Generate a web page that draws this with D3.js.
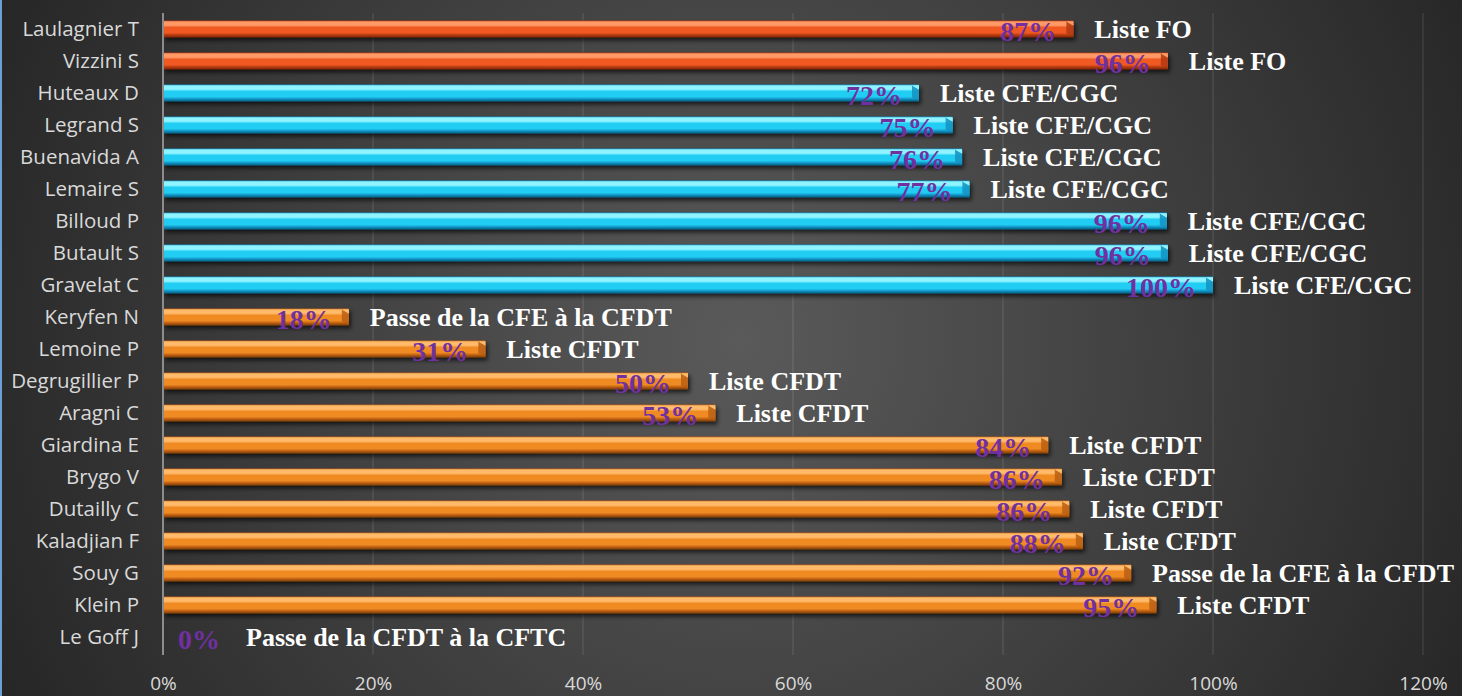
<!DOCTYPE html>
<html>
<head>
<meta charset="utf-8">
<script src="https://cdn.jsdelivr.net/npm/d3@7"></script>
<style>
  html, body { margin: 0; padding: 0; background: #2b2b2b; }
  svg { display: block; }
</style>
</head>
<body>
<svg id="chart" width="1462" height="696"></svg>
<script>
// ---- data ----
const names = ["Laulagnier T","Vizzini S","Huteaux D","Legrand S","Buenavida A","Lemaire S","Billoud P","Butault S","Gravelat C","Keryfen N","Lemoine P","Degrugillier P","Aragni C","Giardina E","Brygo V","Dutailly C","Kaladjian F","Souy G","Klein P","Le Goff J"];
const values = [0.867,0.957,0.72,0.752,0.761,0.768,0.956,0.957,1.0,0.177,0.307,0.50,0.526,0.843,0.856,0.863,0.876,0.922,0.946,0];
const groups = ["FO","FO","CFE","CFE","CFE","CFE","CFE","CFE","CFE","CFDT","CFDT","CFDT","CFDT","CFDT","CFDT","CFDT","CFDT","CFDT","CFDT","CFDT"];
const notes = ["Liste FO","Liste FO","Liste CFE/CGC","Liste CFE/CGC","Liste CFE/CGC","Liste CFE/CGC","Liste CFE/CGC","Liste CFE/CGC","Liste CFE/CGC","Passe de la CFE à la CFDT","Liste CFDT","Liste CFDT","Liste CFDT","Liste CFDT","Liste CFDT","Liste CFDT","Liste CFDT","Passe de la CFE à la CFDT","Liste CFDT","Passe de la CFDT à la CFTC"];
const xTicks = [0,0.2,0.4,0.6,0.8,1.0,1.2];

const palette = {
  FO:   {hi:"#ff9a66", main:"#f05a22", lo:"#b23a10", edge:"#7a2408"},
  CFE:  {hi:"#8ff4ff", main:"#22cdf4", lo:"#1290c0", edge:"#0a5c80"},
  CFDT: {hi:"#ffbb6a", main:"#f08a22", lo:"#b85e10", edge:"#7c3c06"}
};

const W = 1462, H = 696;
const svg = d3.select("#chart");
const defs = svg.append("defs");

// background
const bg = defs.append("radialGradient").attr("id","bg")
  .attr("gradientUnits","userSpaceOnUse").attr("cx",740).attr("cy",340).attr("r",820);
bg.append("stop").attr("offset","0").attr("stop-color","#5a5a5a");
bg.append("stop").attr("offset","0.55").attr("stop-color","#3e3e3e");
bg.append("stop").attr("offset","1").attr("stop-color","#262626");
svg.append("rect").attr("width",W).attr("height",H).attr("fill","url(#bg)");
svg.append("line").attr("x1",1).attr("x2",1).attr("y1",0).attr("y2",H)
  .attr("stroke","#6a9fd8").attr("stroke-width",2);

// bar gradients
Object.entries(palette).forEach(([k,c]) => {
  const g = defs.append("linearGradient").attr("id","g"+k).attr("x1",0).attr("y1",0).attr("x2",0).attr("y2",1);
  [[0,c.lo],[0.08,c.hi],[0.28,c.hi],[0.4,c.main],[0.72,c.main],[0.86,c.lo],[1,c.edge]]
    .forEach(([o,col]) => g.append("stop").attr("offset",o).attr("stop-color",col));
});
const shadow = defs.append("filter").attr("id","shadow").attr("x","-5%").attr("y","-50%").attr("width","110%").attr("height","250%");
shadow.append("feDropShadow").attr("dx",2).attr("dy",3).attr("stdDeviation",2)
  .attr("flood-color","#000").attr("flood-opacity",0.65);

// scales
const x = d3.scaleLinear().domain([0,1.2]).range([163,1423]);
const y = d3.scaleBand().domain(names).range([13,653]).padding(0);
const barH = 17;

// gridlines
svg.append("g").selectAll("line").data(xTicks.slice(1)).join("line")
  .attr("x1",d=>x(d)).attr("x2",d=>x(d)).attr("y1",13).attr("y2",655)
  .attr("stroke","rgba(255,255,255,0.1)").attr("stroke-width",1.5);

// x axis labels
const xAxis = d3.axisBottom(x).tickValues(xTicks).tickFormat(d3.format(".0%")).tickSize(0);
const gx = svg.append("g").attr("transform","translate(0,673)").call(xAxis);
gx.select(".domain").remove();
gx.selectAll("text").attr("font-family","'Open Sans', sans-serif").attr("font-size",19)
  .attr("fill","#d9d9d9").attr("dy","0.71em");

// y axis labels
const yAxis = d3.axisLeft(y).tickSize(0).tickPadding(0);
const gy = svg.append("g").attr("transform","translate(139,0)").call(yAxis);
gy.select(".domain").remove();
gy.selectAll("text").attr("font-family","'Open Sans', sans-serif").attr("font-size",20.5)
  .attr("fill","#d9d9d9").attr("dy","0.36em");

// bars
const rows = names.map((n,i)=>({name:n, v:values[i], g:groups[i], note:notes[i]}));
const bars = svg.append("g").selectAll("g").data(rows.filter(d=>d.v>0)).join("g")
  .attr("filter","url(#shadow)");
bars.append("rect")
  .attr("x",x(0)).attr("y",d=>y(d.name)+y.bandwidth()/2-barH/2)
  .attr("width",d=>x(d.v)-x(0)).attr("height",barH)
  .attr("fill",d=>"url(#g"+d.g+")");
// bevelled end cap
bars.append("path").attr("d",d=>{
  const x1 = x(d.v), y0 = y(d.name)+y.bandwidth()/2-barH/2, y1 = y0+barH;
  return `M${x1-7},${y0+1}L${x1},${y0+5}L${x1},${y1-1}L${x1-7},${y1-4}Z`;
}).attr("fill",d=>palette[d.g].lo).attr("opacity",0.85);
bars.append("path").attr("d",d=>{
  const x1 = x(d.v), y0 = y(d.name)+y.bandwidth()/2-barH/2;
  return `M${x1-7},${y0+1}L${x1},${y0+1}L${x1},${y0+5}Z`;
}).attr("fill",d=>palette[d.g].hi).attr("opacity",0.9);
// axis line
svg.append("line").attr("x1",x(0)).attr("x2",x(0)).attr("y1",13).attr("y2",655)
  .attr("stroke","#8c8c8c").attr("stroke-width",2);

// labels
const fmt = d3.format(".0%");
const lab = svg.append("g").selectAll("g").data(rows).join("g");
lab.each(function(d){
  const g = d3.select(this);
  const cy = y(d.name)+y.bandwidth()/2;
  const pct = g.append("text").text(fmt(d.v))
    .attr("font-family","'Liberation Serif', 'Times New Roman', serif").attr("font-weight","bold")
    .attr("font-size",28).attr("fill","#7030A0").attr("y",cy+12);
  let noteX;
  if (d.v > 0) {
    pct.attr("x",x(d.v)-17).attr("text-anchor","end");
    noteX = x(d.v)+21;
  } else {
    pct.attr("x",x(0)+15).attr("text-anchor","start");
    noteX = x(0)+15+pct.node().getComputedTextLength()+26;
  }
  g.append("text").text(d.note).attr("x",noteX).attr("y",cy+9)
    .attr("font-family","'Liberation Serif', 'Times New Roman', serif").attr("font-weight","bold")
    .attr("font-size",26).attr("fill","#ffffff");
});
</script>
</body>
</html>
